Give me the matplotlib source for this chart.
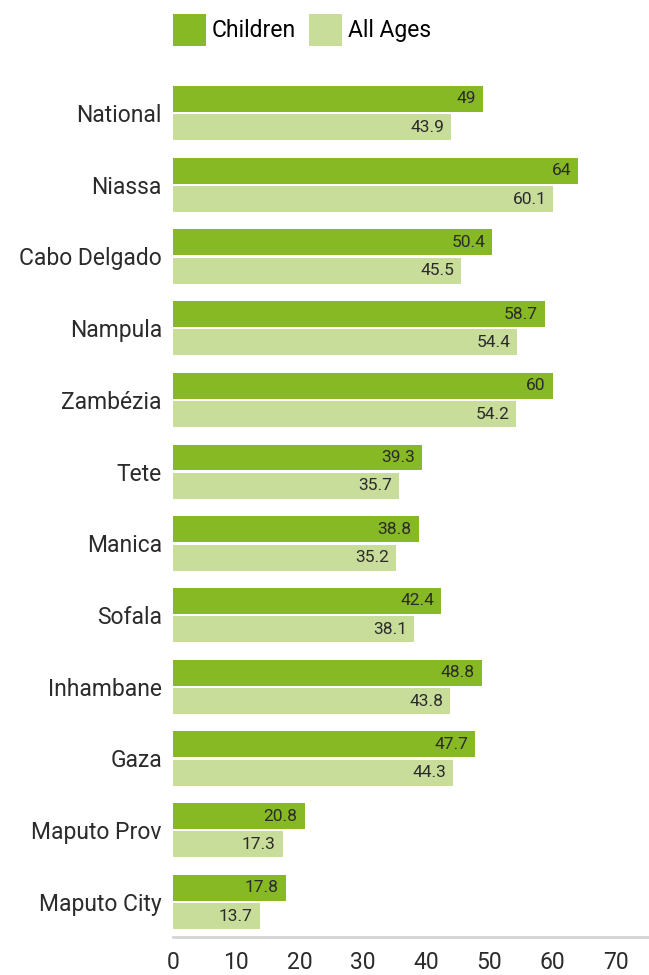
import matplotlib.pyplot as plt
import numpy as np

plt.rcParams['font.family'] = ['Roboto', 'DejaVu Sans']

regions = ['National', 'Niassa', 'Cabo Delgado', 'Nampula', 'Zambézia', 'Tete',
           'Manica', 'Sofala', 'Inhambane', 'Gaza', 'Maputo Prov', 'Maputo City']
children = [49, 64, 50.4, 58.7, 60, 39.3, 38.8, 42.4, 48.8, 47.7, 20.8, 17.8]
all_ages = [43.9, 60.1, 45.5, 54.4, 54.2, 35.7, 35.2, 38.1, 43.8, 44.3, 17.3, 13.7]
x_ticks = [0, 10, 20, 30, 40, 50, 60, 70]

c_children = '#86b924'
c_all = '#c9dd9b'
txt = '#2b2b2b'

fig = plt.figure(figsize=(6.49, 9.75), dpi=100)
ax = fig.add_axes([0.2666, 0.039, 0.7314, 0.883])

y = np.arange(len(regions))
h = 0.362
b1 = ax.barh(y - 0.196, children, height=h, color=c_children, label='Children')
b2 = ax.barh(y + 0.2, all_ages, height=h, color=c_all, label='All Ages')

# value labels sit just inside the bar end
for bars, vals in ((b1, children), (b2, all_ages)):
    for bar, v in zip(bars, vals):
        ax.annotate(f'{v:g}', (v, bar.get_y() + bar.get_height() / 2),
                    xytext=(-5, 0), textcoords='offset points',
                    ha='right', va='center', fontsize=12.5, color=txt)

ax.set_xlim(0, 75)
ax.set_ylim(11.49, -0.515)
ax.set_yticks(y)
ax.set_yticklabels(regions, fontsize=16.5, color=txt)
ax.set_xticks(x_ticks)
ax.set_xticklabels([str(t) for t in x_ticks], fontsize=16.5, color=txt)
ax.tick_params(length=0)
ax.tick_params(axis='y', pad=8)
ax.tick_params(axis='x', pad=10)

for s in ('top', 'right', 'left'):
    ax.spines[s].set_visible(False)
ax.spines['bottom'].set_color('#d4d4d4')
ax.spines['bottom'].set_linewidth(2)

ax.legend(loc='lower left', bbox_to_anchor=(0.0, 1.035), ncol=2, frameon=False,
          fontsize=16.5, handlelength=1.45, handleheight=1.75, handletextpad=0.25,
          columnspacing=0.55, borderaxespad=0, borderpad=0)

fig.savefig('out.png', dpi=100)
